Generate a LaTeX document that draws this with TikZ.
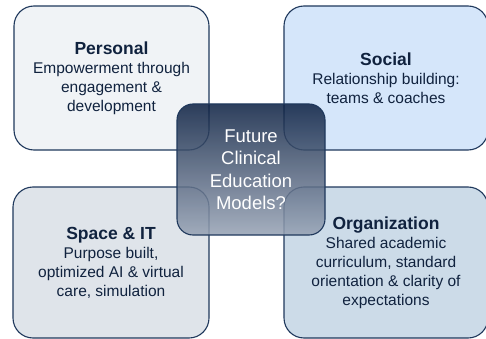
\documentclass[tikz,border=0pt]{standalone}
\usepackage{fontspec}
\setmainfont{Liberation Sans}
\definecolor{navyline}{RGB}{31,56,92}
\definecolor{navytext}{RGB}{16,34,62}
\definecolor{personalfill}{RGB}{240,243,246}
\definecolor{socialfill}{RGB}{213,230,250}
\definecolor{spacefill}{RGB}{223,228,234}
\definecolor{orgfill}{RGB}{204,219,232}
\definecolor{centertop}{RGB}{12,32,66}
\definecolor{centerbottom}{RGB}{150,162,180}
\newcommand{\quadtitle}[1]{{\fontsize{17.5}{20}\selectfont\bfseries #1}}
\begin{document}
\begin{tikzpicture}[x=1pt,y=1pt,yscale=-1,
  quad/.style={draw=navyline,line width=1.1pt,rounded corners=20pt,inner sep=0pt,
    text=navytext,align=center,font=\fontsize{15.5}{19}\selectfont},
  hub/.style={draw=navyline,line width=1.1pt,rounded corners=16pt,inner sep=0pt,
    top color=centertop,bottom color=centerbottom,fill opacity=0.86,text opacity=1,
    text=white,align=center,font=\fontsize{18.5}{22.5}\selectfont}]
\useasboundingbox (0,0) rectangle (486,339);
\clip (0,0) rectangle (486,339);
\begin{scope}[]% layer1
  % personal
  \node[quad,fill=personalfill,minimum width=195pt,minimum height=144pt] (personal) at (111.5,78)
    {\quadtitle{Personal}\\Empowerment through\\engagement \&\\development};
  % social
  \node[quad,fill=socialfill,minimum width=204pt,minimum height=144pt] (social) at (386,78)
    {\quadtitle{Social}\\Relationship building:\\teams \& coaches};
  % space and it
  \node[quad,fill=spacefill,minimum width=196pt,minimum height=151pt] (space) at (111,262.5)
    {\quadtitle{Space \& IT}\\Purpose built,\\optimized AI \& virtual\\care, simulation};
  % organization
  \node[quad,fill=orgfill,minimum width=204pt,minimum height=151pt] (org) at (386,262.5)
    {\quadtitle{Organization}\\Shared academic\\curriculum, standard\\orientation \& clarity of\\expectations};
  % hub
  \node[hub,minimum width=148pt,minimum height=131pt] (future) at (251,169.5)
    {Future\\Clinical\\Education\\Models?};
\end{scope}
\end{tikzpicture}
\end{document}
